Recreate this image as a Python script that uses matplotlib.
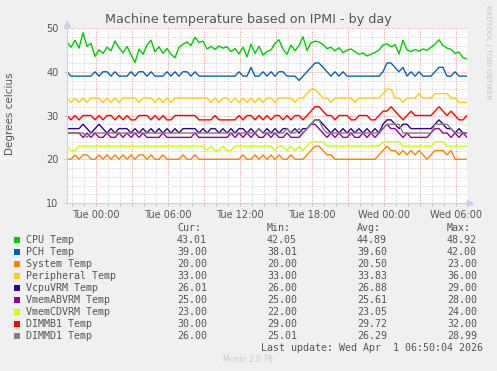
import numpy as np
import matplotlib
matplotlib.use("Agg")
import matplotlib.pyplot as plt

W, H = 497, 371

# 20 minute samples, hours relative to Tue 00:00
hours = np.linspace(-29 / 12, 371 / 12, 101)

cpu_temp = [46.8, 45.6, 47.2, 45.4, 48.9, 45.8, 46.5, 43.5, 45.0, 44.2,
            45.6, 44.8, 47.0, 45.5, 44.3, 45.8, 43.9, 42.1, 45.2, 44.0,
            46.1, 47.2, 44.6, 45.7, 44.2, 45.3, 44.0, 43.2, 45.6, 46.3,
            46.8, 46.0, 47.9, 46.7, 47.0, 45.2, 45.8, 45.1, 45.9, 45.4,
            45.7, 44.6, 45.3, 44.1, 45.6, 43.4, 46.3, 44.2, 45.8, 43.8,
            44.6, 45.0, 46.5, 47.3, 45.2, 44.0, 46.1, 44.8, 46.0, 48.0,
            44.9, 46.6, 47.0, 46.8, 46.2, 45.3, 45.6, 44.8, 45.5, 44.4,
            44.9, 45.2, 44.6, 44.0, 44.3, 43.6, 44.0, 44.4, 45.0, 46.1,
            46.4, 45.7, 46.2, 44.1, 47.2, 45.0, 44.6, 45.1, 44.7, 45.2,
            44.9, 45.6, 46.3, 47.3, 46.0, 45.4, 45.1, 44.2, 44.5, 43.2,
            43.0]
pch_temp = [40, 39, 39, 39, 39, 39, 39, 40, 39, 40,
            40, 39, 40, 39, 39, 39, 40, 39, 40, 40,
            39, 40, 39, 39, 39, 40, 39, 40, 39, 40,
            40, 39, 40, 39, 39, 39, 39, 39, 39, 39,
            39, 39, 39, 40, 39, 39, 41, 39, 39, 40,
            39, 40, 39, 40, 40, 39, 39, 39, 38, 39,
            40, 41, 42, 42, 41, 40, 39, 40, 39, 40,
            39, 39, 39, 39, 39, 39, 39, 39, 39, 40,
            42, 42, 41, 40, 41, 39, 40, 39, 40, 39,
            39, 39, 40, 41, 41, 39, 39, 40, 39, 39,
            39]
system_temp = [20, 20, 21, 20, 21, 21, 20, 20, 21, 20,
               21, 20, 21, 20, 21, 20, 21, 20, 21, 21,
               20, 21, 20, 20, 21, 20, 20, 20, 20, 21,
               20, 20, 21, 20, 20, 20, 20, 20, 20, 20,
               20, 20, 20, 20, 21, 20, 20, 21, 20, 21,
               20, 21, 20, 21, 20, 20, 21, 20, 20, 20,
               21, 22, 23, 23, 22, 21, 21, 20, 20, 20,
               20, 20, 20, 20, 20, 20, 20, 20, 21, 22,
               23, 22, 22, 21, 22, 21, 22, 21, 22, 21,
               20, 21, 22, 22, 22, 21, 22, 20, 20, 20,
               20]
peripheral_temp = [34, 33, 34, 33, 34, 33, 34, 34, 34, 33,
                   34, 33, 34, 33, 34, 34, 34, 34, 33, 34,
                   34, 34, 33, 34, 33, 34, 33, 34, 34, 34,
                   34, 34, 34, 34, 34, 34, 33, 34, 33, 34,
                   34, 33, 34, 33, 34, 33, 34, 33, 34, 33,
                   34, 34, 33, 34, 34, 34, 34, 33, 34, 34,
                   35, 36, 36, 35, 34, 34, 33, 34, 34, 34,
                   34, 34, 33, 34, 34, 34, 34, 34, 34, 35,
                   36, 36, 34, 34, 33, 34, 34, 34, 35, 34,
                   34, 34, 35, 35, 35, 35, 34, 34, 33, 33,
                   33]
vcpuvrm_temp = [27, 27, 27, 27, 28, 27, 26, 27, 28, 27,
                26, 27, 26, 27, 27, 27, 26, 27, 26, 27,
                26, 27, 26, 27, 26, 27, 26, 27, 26, 27,
                27, 27, 27, 26, 27, 26, 27, 27, 26, 27,
                26, 27, 26, 27, 27, 26, 27, 26, 27, 26,
                27, 26, 27, 26, 27, 27, 26, 27, 26, 27,
                27, 28, 29, 29, 28, 27, 26, 27, 26, 27,
                26, 27, 26, 27, 26, 27, 26, 27, 26, 28,
                29, 29, 28, 27, 28, 28, 27, 27, 27, 27,
                27, 27, 28, 29, 28, 27, 27, 26, 27, 26,
                26]
vmemab_temp = [26, 26, 26, 26, 25, 26, 25, 26, 25, 25,
               26, 25, 25, 26, 25, 26, 25, 26, 25, 26,
               25, 25, 25, 25, 26, 25, 25, 25, 25, 25,
               25, 25, 26, 25, 25, 25, 25, 25, 25, 25,
               25, 26, 25, 26, 25, 26, 25, 26, 25, 25,
               26, 25, 26, 25, 25, 26, 25, 25, 25, 26,
               27, 28, 28, 27, 26, 25, 26, 25, 26, 25,
               25, 26, 25, 25, 26, 25, 26, 25, 26, 27,
               28, 27, 27, 26, 25, 26, 25, 25, 25, 25,
               25, 26, 27, 27, 26, 26, 25, 26, 25, 26,
               25]
vmemcd_temp = [23, 22, 22, 23, 23, 23, 23, 23, 23, 23,
               23, 23, 23, 23, 23, 23, 23, 23, 23, 23,
               23, 23, 23, 23, 23, 23, 23, 23, 23, 23,
               23, 23, 23, 23, 23, 22, 23, 22, 22, 23,
               22, 22, 23, 23, 23, 23, 23, 23, 23, 23,
               23, 23, 22, 23, 23, 22, 23, 22, 23, 22,
               23, 24, 24, 24, 24, 23, 23, 23, 23, 23,
               23, 23, 23, 23, 23, 23, 23, 23, 23, 24,
               24, 24, 24, 24, 23, 23, 23, 23, 23, 23,
               23, 23, 24, 24, 24, 23, 23, 23, 23, 23,
               23]
dimmb1_temp = [30, 29, 30, 29, 30, 30, 30, 29, 30, 29,
               30, 30, 29, 30, 29, 30, 29, 29, 30, 30,
               30, 29, 30, 29, 30, 29, 29, 30, 30, 30,
               30, 30, 30, 29, 29, 29, 29, 30, 29, 29,
               29, 29, 29, 30, 29, 30, 30, 29, 30, 29,
               30, 29, 30, 30, 29, 30, 29, 30, 30, 29,
               30, 31, 32, 32, 31, 30, 30, 29, 30, 30,
               30, 29, 29, 30, 30, 30, 29, 29, 30, 31,
               31, 32, 31, 30, 29, 30, 31, 30, 30, 30,
               30, 30, 31, 32, 31, 30, 31, 30, 29, 29,
               30]
dimmd1_temp = [26, 26, 26, 26, 26, 25, 26, 26, 26, 26,
               26, 26, 26, 26, 26, 26, 26, 26, 26, 26,
               26, 26, 26, 26, 26, 26, 26, 26, 26, 26,
               26, 26, 26, 26, 26, 26, 26, 26, 26, 26,
               26, 26, 26, 26, 26, 26, 26, 26, 27, 26,
               26, 26, 26, 26, 26, 27, 26, 26, 27, 26,
               27, 28, 29, 29, 27, 26, 26, 26, 26, 26,
               26, 26, 26, 26, 26, 26, 26, 26, 26, 27,
               28, 28, 28, 28, 26, 26, 26, 26, 26, 26,
               26, 26, 28, 28, 28, 28, 27, 26, 26, 26,
               26]

labels = ["CPU Temp", "PCH Temp", "System Temp", "Peripheral Temp", "VcpuVRM Temp",
          "VmemABVRM Temp", "VmemCDVRM Temp", "DIMMB1 Temp", "DIMMD1 Temp"]
colors = ["#00cc00", "#0066b3", "#ff8000", "#ffcc00", "#330099",
          "#990099", "#ccff00", "#ff0000", "#808080"]
series = [cpu_temp, pch_temp, system_temp, peripheral_temp, vcpuvrm_temp,
          vmemab_temp, vmemcd_temp, dimmb1_temp, dimmd1_temp]

cur_vals = [43.01, 39.00, 20.00, 33.00, 26.01, 25.00, 23.00, 30.00, 26.00]
min_vals = [42.05, 38.01, 20.00, 33.00, 26.00, 25.00, 22.00, 29.00, 25.01]
avg_vals = [44.89, 39.60, 20.50, 33.83, 26.88, 25.61, 23.05, 29.72, 26.29]
max_vals = [48.92, 42.00, 23.00, 36.00, 29.00, 28.00, 24.00, 32.00, 28.99]

tick_hours = [0, 6, 12, 18, 24, 30]
tick_labels = ["Tue 00:00", "Tue 06:00", "Tue 12:00", "Tue 18:00", "Wed 00:00", "Wed 06:00"]

for s in series:
    assert len(s) == len(hours), len(s)


def fx(x):
    return x / W


def fy(y):
    return 1 - y / H


fig = plt.figure(figsize=(W / 100, H / 100), dpi=100, facecolor="#f0f0f0")
ax = fig.add_axes([fx(67), fy(203), 400 / W, 175 / H])
ax.set_facecolor("white")

ax.set_xlim(hours[0], hours[-1])
ax.set_ylim(10, 50)

# grid: gray minor, pink major (dotted like rrdtool)
for h in np.arange(-2, 31):
    major = h % 3 == 0
    ax.axvline(h, color="#e8a8a8" if major else "#d8d8d8", lw=0.7,
               ls=(0, (1.2, 1.2)), zorder=0)
for v in range(12, 50, 2):
    major = v % 10 == 0
    ax.axhline(v, color="#e8a8a8" if major else "#d8d8d8", lw=0.7,
               ls=(0, (1.2, 1.2)), zorder=0)
ax.axhline(50, color="#e8a8a8", lw=0.7, ls=(0, (1.2, 1.2)), zorder=0)

for s, c in zip(series, colors):
    ax.plot(hours, s, color=c, lw=1.0, zorder=2)

for sp in ["top", "right"]:
    ax.spines[sp].set_visible(False)
for sp in ["left", "bottom"]:
    ax.spines[sp].set_color("#c8d0f0")
    ax.spines[sp].set_linewidth(0.8)

# axis arrows
ax.plot([0, 0], [1.0, 1.025], transform=ax.transAxes, color="#c8d0f0", lw=0.8, clip_on=False)
ax.plot([0], [1.025], marker="^", ms=4, color="#c8d0f0", transform=ax.transAxes, clip_on=False)
ax.plot([1.0, 1.008], [0, 0], transform=ax.transAxes, color="#c8d0f0", lw=0.8, clip_on=False)
ax.plot([1.008], [0], marker=">", ms=4, color="#c8d0f0", transform=ax.transAxes, clip_on=False)

ax.set_xticks(tick_hours)
ax.set_xticklabels(tick_labels)
ax.set_xticks(np.arange(-2, 31), minor=True)
ax.set_yticks([10, 20, 30, 40, 50])
ax.tick_params(axis="both", which="both", length=2, width=0.6, color="#c0c0c0",
               labelsize=7, labelcolor="#555555")
ax.tick_params(axis="y", pad=4)
ax.tick_params(axis="x", pad=3)

fig.text(fx(248), fy(19), "Machine temperature based on IPMI - by day",
         ha="center", va="center", fontsize=9.2, color="#555555")
fig.text(fx(10), fy(114), "Degrees celcius", rotation=90, ha="center", va="center",
         fontsize=7.5, color="#555555")
fig.text(fx(488), fy(5), "RRDTOOL / TOBI OETIKER", rotation=270, ha="center", va="top",
         fontsize=5.3, color="#c0c0c0")

# legend block, monospace like munin
mono = dict(family="DejaVu Sans Mono", fontsize=7.2, color="#555555", va="center")
col_x = [177, 267, 357, 447]
for x, head in zip(col_x, ["Cur:", "Min:", "Avg:", "Max:"]):
    fig.text(fx(x), fy(228.3), head, **mono)

for k, (lab, c) in enumerate(zip(labels, colors)):
    y = 239.7 + 12 * k
    fig.patches.append(plt.Rectangle((fx(14), fy(y + 2.8)), 5.5 / W, 5.5 / H,
                                     transform=fig.transFigure, facecolor=c,
                                     edgecolor="none"))
    fig.text(fx(26), fy(y), lab, **mono)
    for x, v in zip(col_x, [cur_vals[k], min_vals[k], avg_vals[k], max_vals[k]]):
        fig.text(fx(x), fy(y), "%.2f" % v, **mono)

fig.text(fx(483), fy(347.7), "Last update: Wed Apr  1 06:50:04 2026", ha="right", **mono)
fig.text(fx(248), fy(360), "Munin 2.0.76", ha="center", va="center",
         fontsize=5.5, color="#c8c8c8")

fig.savefig("out.png", dpi=100, facecolor=fig.get_facecolor())
